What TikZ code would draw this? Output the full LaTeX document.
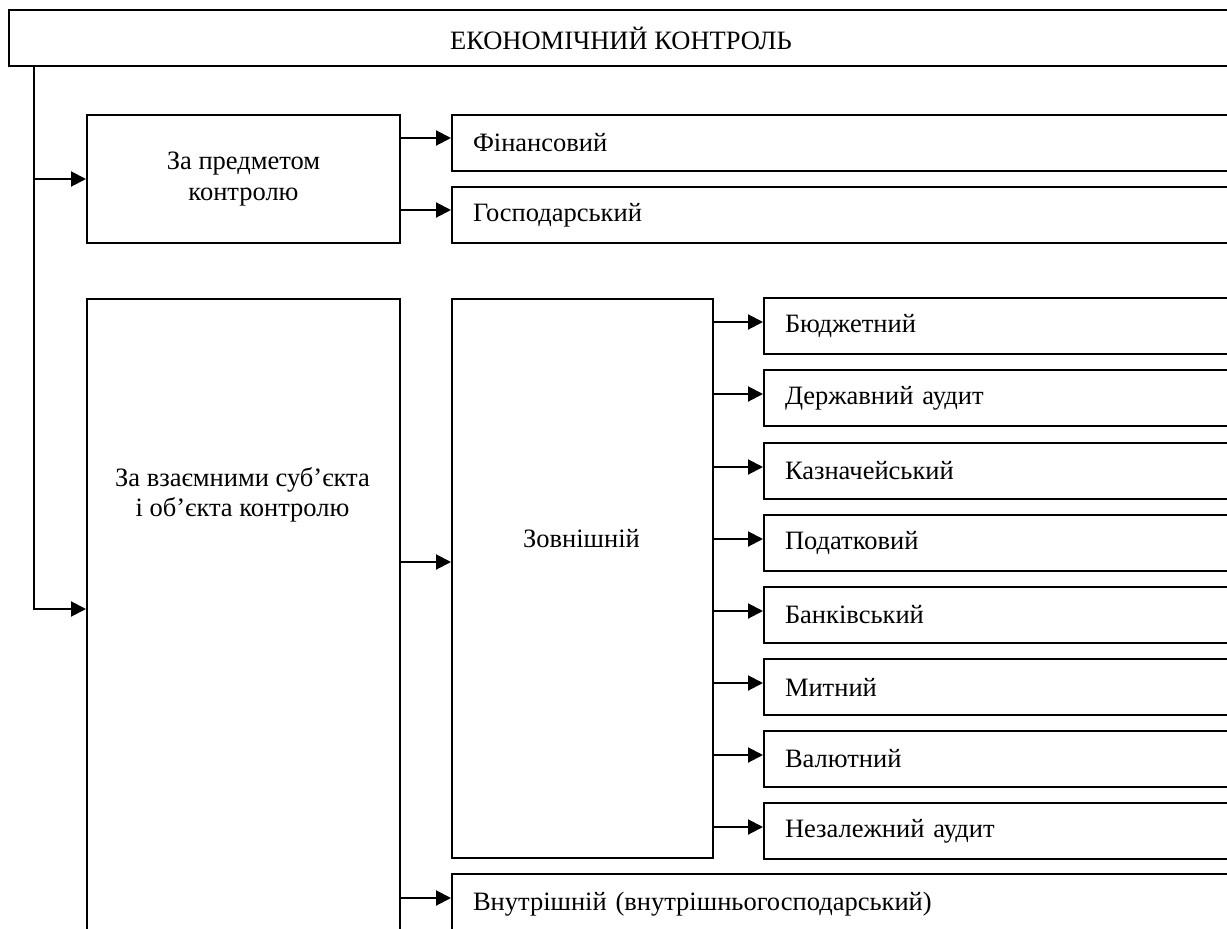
\documentclass[tikz,border=0pt]{standalone}
\usepackage{fontspec}
\setmainfont{Liberation Serif}
\usetikzlibrary{arrows.meta}
\begin{document}
\begin{tikzpicture}[x=1pt,y=-1pt,
  every node/.style={font=\fontsize{26.5}{30.5}\selectfont},
  box/.style={draw, line width=2pt, inner sep=0pt, anchor=north west},
  cbox/.style={box, align=center},
  lbox/.style={box, align=left, text width=760pt, inner xsep=21pt, minimum height=56pt},
  txt/.style={align=center, inner sep=0pt},
  arr/.style={line width=2pt, -{Triangle[length=15pt,width=15pt]}}]
\useasboundingbox (0,0) rectangle (1227,929);
\clip (0,0) rectangle (1227,929);
% boxes
\node[cbox, minimum width=1224pt, minimum height=56pt] (top) at (8,9) {ЕКОНОМІЧНИЙ КОНТРОЛЬ};
\node[cbox, minimum width=313pt, minimum height=128pt] (pred) at (86,114) {За предметом\\контролю};
\node[lbox] (fin) at (451,114) {Фінансовий};
\node[lbox] (gosp) at (451,186) {Господарський};
\node[box, minimum width=313pt, minimum height=700pt] (vz) at (86,298) {};
\node[txt] (vzt) at (242.5,495) {За взаємними суб’єкта\\і об’єкта контролю};
\node[box, minimum width=261pt, minimum height=559pt] (zov) at (451,298) {};
\node[txt, anchor=base] (zovt) at (581.5,547) {Зовнішній};
\node[lbox] (b1) at (763,297) {Бюджетний};
\node[lbox] (b2) at (763,369) {Державний аудит};
\node[lbox] (b3) at (763,442) {Казначейський};
\node[lbox] (b4) at (763,514) {Податковий};
\node[lbox] (b5) at (763,586) {Банківський};
\node[lbox] (b6) at (763,658) {Митний};
\node[lbox] (b7) at (763,730) {Валютний};
\node[lbox] (b8) at (763,802) {Незалежний аудит};
\node[lbox, minimum height=60pt] (vn) at (451,873) {Внутрішній (внутрішньогосподарський)};
% connectors
\coordinate (tr) at ([xshift=26pt]top.south west);
\coordinate (vzin) at ([yshift=-311pt]vz.north west);
\draw[arr] (tr) |- (pred.west);
\draw[arr] (tr) |- (vzin);
\coordinate (finin) at ([yshift=5pt]fin.west);
\coordinate (gospin) at ([yshift=5pt]gosp.west);
\draw[arr] (pred.east |- finin) -- (finin);
\draw[arr] (pred.east |- gospin) -- (gospin);
\coordinate (zovin) at ([yshift=-264pt]zov.north west);
\draw[arr] (vz.east |- zovin) -- (zovin);
\coordinate (vnin) at ([yshift=-25pt]vn.north west);
\draw[arr] (vz.east |- vnin) -- (vnin);
\foreach \i in {1,...,8}{
  \coordinate (bin\i) at ([yshift=4pt]b\i.west);
  \draw[arr] (zov.east |- bin\i) -- (bin\i);
}
\end{tikzpicture}
\end{document}
